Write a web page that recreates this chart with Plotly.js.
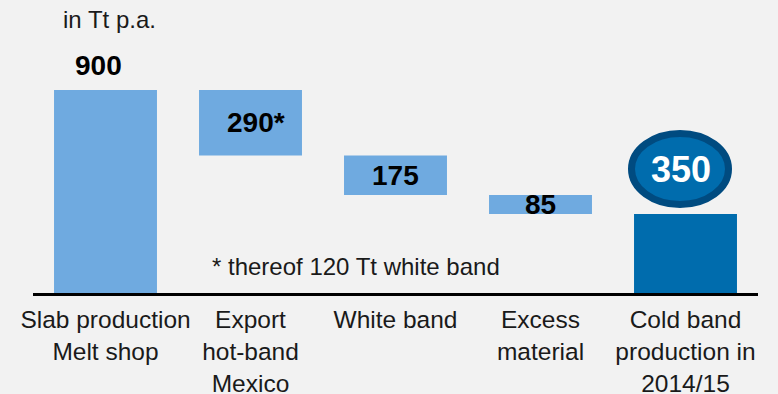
<!DOCTYPE html>
<html>
<head>
<meta charset="utf-8">
<script src="https://cdn.plot.ly/plotly-3.0.1.min.js"></script>
<style>
html,body{margin:0;padding:0;background:#f2f2f2;}
#chart{width:778px;height:394px;}
</style>
</head>
<body>
<div id="chart"></div>
<script>
// Data
var categories = ["Slab production<br>Melt shop", "Export<br>hot-band<br>Mexico", "White band", "Excess<br>material", "Cold band<br>production in<br>2014/15"];
var values = [900, 290, 175, 85, 350];
var valueLabels = ["900", "290*", "175", "85", "350"];
var barKinds = ["total", "decrease", "decrease", "decrease", "total"];
var unitLabel = "in Tt p.a.";
var footnote = "* thereof 120 Tt white band";

// Waterfall bases computed from the values
var bases = [];
var running = 0;
for (var i = 0; i < values.length; i++) {
  if (barKinds[i] === "total") { bases.push(0); running = values[i]; }
  else { running -= values[i]; bases.push(running); }
}
var xs = categories.map(function(_, i){ return i; });

var lightBlue = "#6faae0";
var darkBlue = "#006cad";
var colors = barKinds.map(function(k, i){ return i === values.length - 1 ? darkBlue : lightBlue; });

var trace = {
  type: "bar",
  x: xs,
  y: values,
  base: bases,
  marker: {color: colors, line: {width: 0}},
  hoverinfo: "none",
  cliponaxis: false
};

var FONT = "Liberation Sans, Arial, sans-serif";
var annotations = [];
// value labels
for (var j = 0; j < values.length; j++) {
  var a = {
    x: xs[j], xref: "x", yref: "y", showarrow: false,
    text: "<b>" + valueLabels[j] + "</b>",
    font: {family: FONT, size: 28, color: "#000"},
    xanchor: "center", yanchor: "middle"
  };
  if (j === 0) { a.y = bases[j] + values[j]; a.yshift = 25; a.xshift = -7; }
  else if (j === values.length - 1) {
    a.y = values[j]; a.yshift = 45; a.xshift = -5;
    a.font = {family: FONT, size: 36, color: "#ffffff"};
  }
  else { a.y = bases[j] + values[j] / 2; }
  if (j === 1) a.xshift = 5;
  annotations.push(a);
}
annotations.push({
  xref: "x", x: 0, xshift: 4, yref: "paper", y: 1, yshift: -19,
  xanchor: "center", yanchor: "middle", showarrow: false,
  text: unitLabel, font: {family: FONT, size: 24, color: "#1a1a1a"}
});
annotations.push({
  xref: "x", x: 1.73, yref: "y", y: 118,
  xanchor: "center", yanchor: "middle", showarrow: false,
  text: footnote, font: {family: FONT, size: 24, color: "#1a1a1a"}
});

var layout = {
  width: 778, height: 394,
  paper_bgcolor: "#f2f2f2", plot_bgcolor: "#f2f2f2",
  margin: {l: 33, r: 20, t: 0, b: 101, autoexpand: false},
  showlegend: false,
  bargap: 0.29,
  xaxis: {
    range: [-0.5, 4.5], tickmode: "array", tickvals: xs, ticktext: categories,
    showline: true, linecolor: "#000", linewidth: 3, ticks: "",
    ticklabelstandoff: 3,
    showgrid: false, zeroline: false, fixedrange: true,
    tickfont: {family: FONT, size: 24.5, color: "#1a1a1a"}
  },
  yaxis: {
    range: [0, 1299], visible: false, showgrid: false, zeroline: false, fixedrange: true
  },
  shapes: [{
    type: "circle", xref: "x", yref: "y",
    xsizemode: "pixel", xanchor: xs[4], x0: -54, x1: 43,
    ysizemode: "pixel", yanchor: values[4], y0: 9.5, y1: 80.5,
    fillcolor: darkBlue, line: {color: "#004b80", width: 7}
  }],
  annotations: annotations
};

Plotly.newPlot("chart", [trace], layout, {displayModeBar: false, staticPlot: true});
</script>
</body>
</html>
